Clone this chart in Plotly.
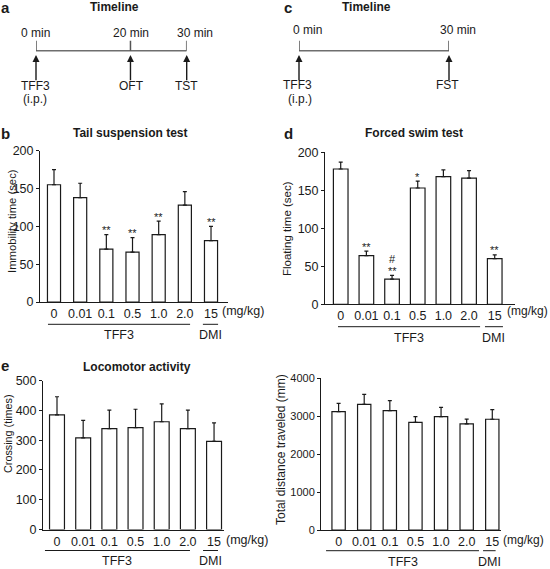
import plotly.graph_objects as go

# ---------------- data ----------------
doses = ["0", "0.01", "0.1", "0.5", "1.0", "2.0", "15"]
unit_label = "(mg/kg)"
group_tff3 = "TFF3"
group_dmi = "DMI"

tst_mean = [155, 138, 70, 66, 89, 128, 81]
tst_sem = [20, 19, 19, 19, 18, 18, 19]
tst_sig = ["", "", "**", "**", "**", "", "**"]

fst_mean = [178, 64, 33, 153, 168, 166, 60]
fst_sem = [9, 6, 5, 9, 9, 10, 5]
fst_sig = ["", "**", "**", "*", "", "", "**"]
fst_hash = ["", "", "#", "", "", "", ""]

cross_mean = [385, 308, 339, 342, 362, 339, 296]
cross_sem = [61, 59, 62, 62, 60, 62, 62]

dist_mean = [3120, 3310, 3150, 2840, 2990, 2800, 2920]
dist_sem = [220, 265, 260, 150, 245, 125, 255]

tl_a_times = [0, 20, 30]
tl_a_labels = ["0 min", "20 min", "30 min"]
tl_a_events = ["TFF3", "OFT", "TST"]
tl_c_times = [0, 30]
tl_c_labels = ["0 min", "30 min"]
tl_c_events = ["TFF3", "FST"]
route_label = "(i.p.)"

# ---------------- geometry / style ----------------
W, H = 550, 569
FONT = "Liberation Sans, Arial, Helvetica, sans-serif"
INK = "#1a1a1a"


def px(x):
    return x / W


def py(y):
    return 1 - y / H


panels = [
    dict(xa="x", ya="y", mean=tst_mean, sem=tst_sem, sig=tst_sig, hash=None,
         xd=(40, 228), yd=(150.7, 302), xr=(-0.535, 6.649), yr=(0, 200), dtick=50,
         bw=0.5, ytitle="Immobility time (sec)", ytx=12, yty=221, ytfs=11.3, tfs=12.5,
         letter="b", lx=5, ly=134, title="Tail suspension test", tx=130, ty=133,
         line_y=324.3, grp_y=334.5, tff3=(-0.23, 5.20), dmi=(5.69, 6.27), unit_px=242.7,
         unit_fs=12.5, label_y=310.5),
    dict(xa="x2", ya="y2", mean=fst_mean, sem=fst_sem, sig=fst_sig, hash=fst_hash,
         xd=(325, 515), yd=(152.3, 304.3), xr=(-0.612, 6.79), yr=(0, 200), dtick=50,
         bw=0.57, ytitle="Floating time (sec)", ytx=287, yty=229, ytfs=11.5, tfs=12.5,
         letter="d", lx=288, ly=134, title="Forced swim test", tx=414, ty=133,
         line_y=326.7, grp_y=338, tff3=(-0.105, 5.43), dmi=(5.62, 6.32), unit_px=527.5,
         unit_fs=12, label_y=310.5),
    dict(xa="x3", ya="y3", mean=cross_mean, sem=cross_sem, sig=None, hash=None,
         xd=(43, 224), yd=(380.7, 529.5), xr=(-0.535, 6.38), yr=(0, 500), dtick=100,
         bw=0.57, ytitle="Crossing (times)", ytx=8, yty=434, ytfs=10.8, tfs=12.5,
         letter="e", lx=5, ly=365, title="Locomotor activity", tx=136.7, ty=366.5,
         line_y=550.5, grp_y=561, tff3=(-0.46, 5.08), dmi=(5.58, 6.15), unit_px=246.7,
         unit_fs=12.5, label_y=540),
    dict(xa="x4", ya="y4", mean=dist_mean, sem=dist_sem, sig=None, hash=None,
         xd=(321, 501), yd=(378.3, 530), xr=(-0.687, 6.34), yr=(0, 4000), dtick=1000,
         bw=0.52, ytitle="Total distance traveled (mm)", ytx=281, yty=450, ytfs=12, tfs=11,
         letter=None, lx=0, ly=0, title=None, tx=0, ty=0,
         line_y=550.7, grp_y=562.3, tff3=(-0.49, 5.48), dmi=(5.64, 6.13), unit_px=523.3,
         unit_fs=12, label_y=540),
]

fig = go.Figure()
layout = dict(
    template="none",
    width=W, height=H, margin=dict(l=0, r=0, t=0, b=0, pad=0, autoexpand=False),
    paper_bgcolor="white", plot_bgcolor="white", showlegend=False,
    font=dict(family=FONT, color=INK, size=12),
)
annotations = []
shapes = []

for i, p in enumerate(panels):
    n = i + 1
    xkey = "xaxis" if n == 1 else f"xaxis{n}"
    ykey = "yaxis" if n == 1 else f"yaxis{n}"
    xs = list(range(len(doses)))
    fig.add_trace(go.Bar(
        x=xs, y=p["mean"], width=p["bw"], xaxis=p["xa"], yaxis=p["ya"],
        marker=dict(color="white", line=dict(color=INK, width=1.2)),
        error_y=dict(type="data", symmetric=False, array=p["sem"],
                     arrayminus=[0] * len(p["sem"]), color=INK, thickness=1.2, width=2),
        hoverinfo="skip",
    ))
    layout[xkey] = dict(
        domain=[px(p["xd"][0]), px(p["xd"][1])], range=list(p["xr"]), anchor=p["ya"],
        showline=True, linecolor=INK, linewidth=1, ticks="", showgrid=False, zeroline=False,
        tickvals=xs, ticktext=doses, tickfont=dict(size=12.5, color=INK), fixedrange=True,
        automargin=False,
    )
    layout[ykey] = dict(
        domain=[py(p["yd"][1]), py(p["yd"][0])], range=list(p["yr"]), anchor=p["xa"],
        showline=True, linecolor=INK, linewidth=1, ticks="outside", ticklen=3,
        tickcolor=INK, tickwidth=1, dtick=p["dtick"], tick0=0, showgrid=False,
        zeroline=False, tickfont=dict(size=p["tfs"], color=INK), fixedrange=True,
        automargin=False,
    )
    # y title
    annotations.append(dict(text=p["ytitle"], x=px(p["ytx"]), y=py(p["yty"]), xref="paper",
                            yref="paper", textangle=-90, showarrow=False,
                            xanchor="center", yanchor="middle", font=dict(size=p["ytfs"])))
    # letter & title
    if p["letter"]:
        annotations.append(dict(text=f"<b>{p['letter']}</b>", x=px(p["lx"]), y=py(p["ly"]),
                                xref="paper", yref="paper", showarrow=False,
                                xanchor="center", yanchor="middle", font=dict(size=15)))
    if p["title"]:
        annotations.append(dict(text=f"<b>{p['title']}</b>", x=px(p["tx"]), y=py(p["ty"]),
                                xref="paper", yref="paper", showarrow=False,
                                xanchor="center", yanchor="middle", font=dict(size=12)))
    # unit label
    annotations.append(dict(text=unit_label, x=px(p["unit_px"]), y=py(p["label_y"]),
                            xref="paper", yref="paper", showarrow=False, xanchor="center",
                            yanchor="middle", font=dict(size=p["unit_fs"])))
    # group brackets
    for (a, b), lab in ((p["tff3"], group_tff3), (p["dmi"], group_dmi)):
        shapes.append(dict(type="line", xref=p["xa"], yref="paper", x0=a, x1=b,
                           y0=py(p["line_y"]), y1=py(p["line_y"]),
                           line=dict(color=INK, width=1)))
        annotations.append(dict(text=lab, x=(a + b) / 2, y=py(p["grp_y"]), xref=p["xa"],
                                yref="paper", showarrow=False, xanchor="center",
                                yanchor="middle", font=dict(size=12.5)))
    # significance marks
    if p["sig"]:
        for j, s in enumerate(p["sig"]):
            if s:
                annotations.append(dict(text=s, x=j, y=p["mean"][j] + p["sem"][j],
                                        xref=p["xa"], yref=p["ya"], showarrow=False,
                                        xanchor="center", yanchor="bottom", yshift=-3.5,
                                        font=dict(size=11, color=INK)))
    if p["hash"]:
        for j, s in enumerate(p["hash"]):
            if s:
                annotations.append(dict(text=s, x=j, y=p["mean"][j] + p["sem"][j],
                                        xref=p["xa"], yref=p["ya"], showarrow=False,
                                        xanchor="center", yanchor="bottom", yshift=8,
                                        font=dict(size=11, color=INK)))

# ---------------- timelines ----------------
timelines = [
    dict(xa="x5", ya="y5", xd=(36, 186.7), times=tl_a_times, labels=tl_a_labels,
         events=tl_a_events, label_dx=[-1, -5, 8], event_dx=[-1, -5, 0], mark_dx=[0, -6, 0],
         label_y=33, event_y=86, route_y=99, route_dx=-1,
         letter="a", lx=5, ly=7.5, tx=115, ty=7.5),
    dict(xa="x6", ya="y6", xd=(299, 449), times=tl_c_times, labels=tl_c_labels,
         events=tl_c_events, label_dx=[9, 9], event_dx=[-1, -1], mark_dx=[0, 0],
         label_y=30, event_y=85, route_y=98.5, route_dx=1,
         letter="c", lx=288, ly=7.5, tx=366.7, ty=7.5),
]
line_y, tick_top, head_y, tail_y = 50.7, 40.7, 55, 81.7

for k, t in enumerate(timelines):
    n = 5 + k
    fig.add_trace(go.Scatter(x=[], y=[], xaxis=t["xa"], yaxis=t["ya"], hoverinfo="skip"))
    layout[f"xaxis{n}"] = dict(domain=[px(t["xd"][0]), px(t["xd"][1])], range=[0, 30],
                               visible=False, anchor=t["ya"], fixedrange=True)
    layout[f"yaxis{n}"] = dict(domain=[0.82, 1.0], range=[0, 1], visible=False,
                               anchor=t["xa"], fixedrange=True)
    shapes.append(dict(type="line", xref=t["xa"], yref="paper", x0=min(t["times"]),
                       x1=max(t["times"]), y0=py(line_y), y1=py(line_y),
                       line=dict(color="#6e6e6e", width=1.5)))
    for j, tm in enumerate(t["times"]):
        shapes.append(dict(type="line", xref=t["xa"], yref="paper", xsizemode="pixel",
                           xanchor=tm, x0=t["mark_dx"][j], x1=t["mark_dx"][j],
                           y0=py(tick_top), y1=py(line_y),
                           line=dict(color="#555555", width=1.5)))
        annotations.append(dict(text=t["labels"][j], x=tm, y=py(t["label_y"]), xref=t["xa"],
                                yref="paper", showarrow=False, xanchor="center",
                                yanchor="middle", xshift=t["label_dx"][j],
                                font=dict(size=12)))
        annotations.append(dict(text="", x=tm, y=py(head_y), xref=t["xa"], yref="paper",
                                showarrow=True, ax=0, ay=tail_y - head_y, arrowhead=2,
                                arrowsize=1, arrowwidth=1.4, arrowcolor=INK,
                                xshift=t["mark_dx"][j]))
        annotations.append(dict(text=t["events"][j], x=tm, y=py(t["event_y"]), xref=t["xa"],
                                yref="paper", showarrow=False, xanchor="center",
                                yanchor="middle", xshift=t["event_dx"][j],
                                font=dict(size=12)))
    annotations.append(dict(text=route_label, x=t["times"][0], y=py(t["route_y"]),
                            xref=t["xa"], yref="paper", showarrow=False, xanchor="center",
                            yanchor="middle", xshift=t["route_dx"], font=dict(size=12)))
    annotations.append(dict(text=f"<b>{t['letter']}</b>", x=px(t["lx"]), y=py(t["ly"]),
                            xref="paper", yref="paper", showarrow=False, xanchor="center",
                            yanchor="middle", font=dict(size=15)))
    annotations.append(dict(text="<b>Timeline</b>", x=px(t["tx"]), y=py(t["ty"]),
                            xref="paper", yref="paper", showarrow=False, xanchor="center",
                            yanchor="middle", font=dict(size=12)))

layout["annotations"] = annotations
layout["shapes"] = shapes
fig.update_layout(**layout)
fig.write_html(
    "out.html",
    config={"displayModeBar": False},
    post_script=(
        "document.documentElement.style.margin='0';"
        "document.documentElement.style.overflow='hidden';"
        "document.body.style.margin='0';document.body.style.overflow='hidden';"
        "var gd=document.getElementById('{plot_id}');"
        "gd.style.position='fixed';gd.style.top='0px';gd.style.left='0px';"
    ),
)
